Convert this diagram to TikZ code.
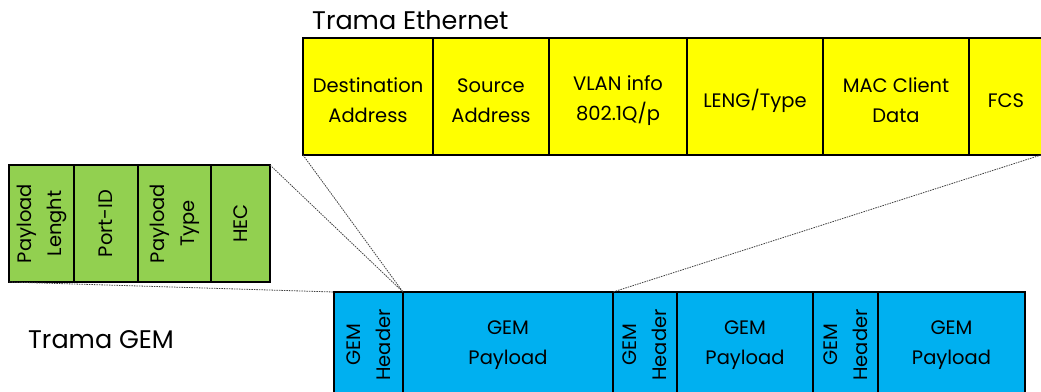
\documentclass[tikz,border=0pt]{standalone}
\usepackage{fontspec}
\setmainfont{Poppins}
\definecolor{ethyellow}{HTML}{FFFF00}
\definecolor{gemgreen}{HTML}{92D050}
\definecolor{gemblue}{HTML}{00B0F0}
\tikzset{
  cell/.style={draw=black, line width=1.2pt, anchor=north west, inner sep=0pt, outer sep=0pt},
  ycell/.style={cell, fill=ethyellow},
  gcell/.style={cell, fill=gemgreen},
  bcell/.style={cell, fill=gemblue},
  lbl/.style={align=center, inner sep=0pt, text=black, font=\fontsize{19.5}{30}\selectfont},
  ylbl/.style={lbl, yshift=-4pt},
  rlbl/.style={lbl, rotate=90},
  title/.style={anchor=west, inner sep=0pt, text=black, font=\fontsize{25.5}{28}\selectfont},
  zoomline/.style={draw=black!75, line width=0.8pt, dash pattern=on 1.5pt off 1pt}
}
\newcommand{\mycell}[6]{%
  \node[#1, minimum width=#4pt-#2pt, minimum height=#5pt-#3pt] (#6) at (#2,#3) {};}
\begin{document}
\begin{tikzpicture}[x=1pt,y=-1pt]
\useasboundingbox (0,0) rectangle (1041,391);
\clip (0,0) rectangle (1041,391);
% Ethernet frame
\node[title] (tEth) at (312,20) {Trama Ethernet};
\mycell{ycell}{303}{38}{433}{155}{da}
\mycell{ycell}{433}{38}{549}{155}{sa}
\mycell{ycell}{549}{38}{687}{155}{vlan}
\mycell{ycell}{687}{38}{823}{155}{leng}
\mycell{ycell}{823}{38}{969}{155}{mac}
\mycell{ycell}{969}{38}{1050}{155}{fcs}
\node[ylbl] (tda) at (da.center) {Destination\\Address};
\node[ylbl] (tsa) at (sa.center) {Source\\Address};
\node[ylbl] (tvlan) at (vlan.center) {VLAN info\\802.1Q/p};
\node[ylbl] (tleng) at (leng.center) {LENG/Type};
\node[ylbl] (tmac) at (mac.center) {MAC Client\\Data};
\node[ylbl] (tfcs) at (1006,96.5) {FCS};
\coordinate (fcsSE) at (1041,155);
% GEM header fields
\mycell{gcell}{9}{165}{74}{282}{pl}
\mycell{gcell}{74}{165}{138}{282}{pid}
\mycell{gcell}{138}{165}{211}{282}{pt}
\mycell{gcell}{211}{165}{270}{282}{hec}
\node[rlbl] (tpl) at (pl.center) {Payload\\Lenght};
\node[rlbl] (tpid) at (pid.center) {Port-ID};
\node[rlbl] (tpt) at (pt.center) {Payload\\Type};
\node[rlbl] (thec) at (hec.center) {HEC};
% GEM frame
\node[title] (tGem) at (28,340) {Trama GEM};
\mycell{bcell}{334}{292}{403}{400}{h1}
\mycell{bcell}{403}{292}{613}{400}{p1}
\mycell{bcell}{613}{292}{677}{400}{h2}
\mycell{bcell}{677}{292}{813}{400}{p2}
\mycell{bcell}{813}{292}{878}{400}{h3}
\mycell{bcell}{878}{292}{1025}{400}{p3}
\node[rlbl] (th1) at (368.5,345) {GEM\\Header};
\node[rlbl] (th2) at (645,345) {GEM\\Header};
\node[rlbl] (th3) at (845.5,345) {GEM\\Header};
\node[lbl] (tp1) at (508,345) {GEM\\Payload};
\node[lbl] (tp2) at (745,345) {GEM\\Payload};
\node[lbl] (tp3) at (951.5,345) {GEM\\Payload};
% zoom lines
\draw[zoomline] (hec.north east) -- (h1.north east);
\draw[zoomline] (pl.south west) -- (h1.north west);
\draw[zoomline] (da.south west) -- (h1.north east);
\draw[zoomline] (fcsSE) -- (h2.north west);
\end{tikzpicture}
\end{document}
